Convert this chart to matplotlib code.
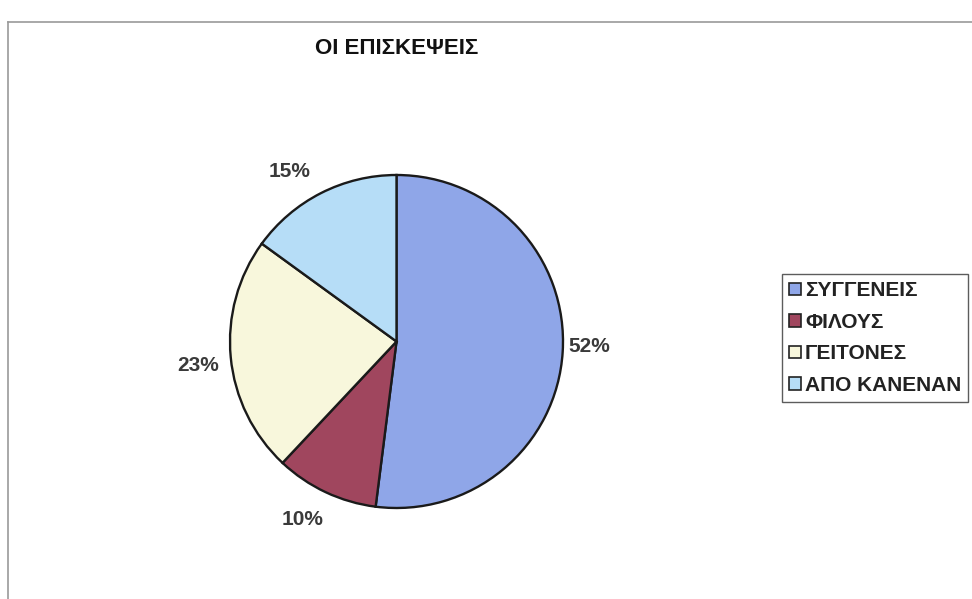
import numpy as np
import matplotlib.pyplot as plt
from matplotlib.patches import Patch

plt.rcParams['font.family'] = ['Liberation Sans', 'DejaVu Sans']

labels = ['ΣΥΓΓΕΝΕΙΣ', 'ΦΙΛΟΥΣ', 'ΓΕΙΤΟΝΕΣ', 'ΑΠΟ ΚΑΝΕΝΑΝ']
values = [52, 10, 23, 15]
colors = ['#8fa6e8', '#a0465e', '#f8f7dc', '#b6ddf7']
title = 'ΟΙ ΕΠΙΣΚΕΨΕΙΣ'
# Excel-like label placement: radial distance and angular nudge (deg)
label_dist = [1.16, 1.21, 1.20, 1.21]
label_nudge = [2.0, -2.5, 1.6, 5.2]

fig = plt.figure(figsize=(9.72, 5.99), dpi=100)
fig.patch.set_facecolor('white')

# chart frame (scanned page border)
fig.add_artist(plt.Line2D([8/972, 8/972], [0, 1 - 22/599], color='#9a9a9a', lw=1.2))
fig.add_artist(plt.Line2D([8/972, 1], [1 - 22/599, 1 - 22/599], color='#9a9a9a', lw=1.2))

ax = fig.add_axes([230/972, 1 - 508/599, 333/972, 333/599])
wedges, _ = ax.pie(values, colors=colors, startangle=90, counterclock=False,
                   wedgeprops=dict(edgecolor='#1a1a1a', linewidth=1.7))
ax.set_xlim(-1.0, 1.0)
ax.set_ylim(-1.0, 1.0)
ax.set_aspect('equal')

for w, v, d, n in zip(wedges, values, label_dist, label_nudge):
    mid = np.deg2rad((w.theta1 + w.theta2) / 2 + n)
    ax.text(d * np.cos(mid), d * np.sin(mid), f'{v}%', ha='center', va='center',
            fontsize=15, fontweight='bold', color='#3a3a3a', clip_on=False)

fig.text(397/972, 1 - 48/599, title, ha='center', va='center',
         fontsize=16, fontweight='bold', color='#111111')

handles = [Patch(facecolor=c, edgecolor='#222222', linewidth=1.2) for c in colors]
leg = fig.legend(handles, labels, loc='upper left', bbox_to_anchor=(782/972, 1 - 274/599),
                 frameon=True, fancybox=False, fontsize=15, handlelength=0.55,
                 handleheight=0.55, handletextpad=0.2, labelspacing=0.6,
                 borderpad=0.35, borderaxespad=0)
leg.get_frame().set_edgecolor('#333333')
leg.get_frame().set_linewidth(1.0)
for t in leg.get_texts():
    t.set_fontweight('bold')
    t.set_color('#222222')

fig.savefig('out.png', dpi=100)
